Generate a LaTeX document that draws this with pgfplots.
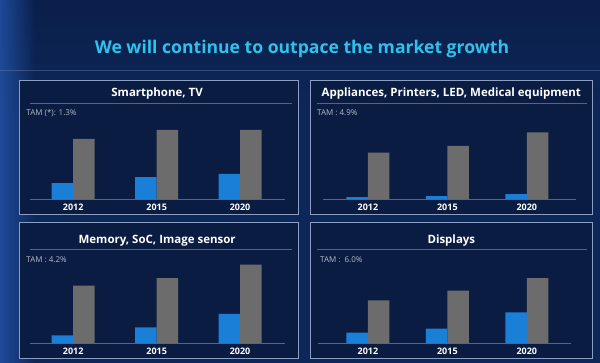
\documentclass[border=0pt]{standalone}
\usepackage{pgfplots}
\pgfplotsset{compat=1.18}
\usetikzlibrary{fadings}
\usepackage{fontspec}
\setmainfont{Open Sans}
\definecolor{bgmid}{HTML}{0E2759}
\definecolor{bgleft}{HTML}{1E4A98}
\definecolor{bgtop}{HTML}{0A1F4A}
\definecolor{panelbg}{HTML}{0A1C42}
\definecolor{frame}{HTML}{8C9EC2}
\definecolor{sep}{HTML}{4D6592}
\definecolor{titlecyan}{HTML}{2EC2EC}
\definecolor{barblue}{HTML}{1A7FD6}
\definecolor{bargray}{HTML}{6C6C6C}
\definecolor{tamgray}{HTML}{B4BCCC}
\pgfplotsset{
  panel/.style={
    scale only axis, height=80pt,
    ymin=0, ymax=80,
    ybar=0pt, bar width=21.5pt,
    axis y line=none,
    axis x line=bottom,
    axis line style={-, draw=sep, line width=0.8pt},
    xtick={0,1,2}, xticklabels={2012,2015,2020},
    major tick length=0pt,
    xticklabel style={font=\bfseries\fontsize{9}{9}\selectfont, text=white, inner sep=0pt, yshift=-4.5pt},
    clip=false,
    anchor=south west,
  },
  bb/.style={fill=barblue, draw=none},
  gb/.style={fill=bargray, draw=none},
}
\begin{document}
\begin{tikzpicture}[x=1pt,y=1pt]
% background
\fill[bgmid] (0,0) rectangle (600,363);
\shade[top color=bgtop, bottom color=bgmid] (0,250) rectangle (600,363);
\fill[bgleft, path fading=east] (0,0) rectangle (35,363);
\draw[sep!70!white, opacity=0.35, line width=0.6pt] (0,293) -- (600,293);
% title
\node[text=titlecyan, font=\bfseries\fontsize{17.6}{17.6}\selectfont] at (302,314) {We will continue to outpace the market growth};
% panels
\foreach \xa/\xb/\ya/\yb in {19/298/148/283, 310/593/148/283, 19/298/4/140, 310/593/4/140}{
  \fill[panelbg] (\xa,\ya) rectangle (\xb,\yb);
  \draw[frame, line width=0.6pt] (\xa,\ya) rectangle (\xb,\yb);
}
\draw[sep, line width=0.7pt] (30,260) -- (292,260);
\draw[sep, line width=0.7pt] (317,260) -- (587,260);
\draw[sep, line width=0.7pt] (30,113) -- (292,113);
\draw[sep, line width=0.7pt] (317,113) -- (587,113);
\node[text=white, font=\fontsize{11.5}{11.5}\selectfont\bfseries] at (157,269) {Smartphone, TV};
\node[text=white, font=\fontsize{11.5}{11.5}\selectfont\bfseries] at (451.5,269) {Appliances, Printers, LED, Medical equipment};
\node[text=white, font=\fontsize{11.5}{11.5}\selectfont\bfseries] at (157,122) {Memory, SoC, Image sensor};
\node[text=white, font=\fontsize{11.5}{11.5}\selectfont\bfseries] at (451.5,122) {Displays};
\node[text=tamgray, font=\fontsize{8}{8}\selectfont, anchor=west, inner sep=0pt] at (26,250) {TAM (*): 1.3\%};
\node[text=tamgray, font=\fontsize{8}{8}\selectfont, anchor=west, inner sep=0pt] at (317,250) {TAM :\ 4.9\%};
\node[text=tamgray, font=\fontsize{8}{8}\selectfont, anchor=west, inner sep=0pt] at (26,103) {TAM : 4.2\%};
\node[text=tamgray, font=\fontsize{8}{8}\selectfont, anchor=west, inner sep=0pt] at (320,103) {TAM :\ \ 6.0\%};
% panel 1
\begin{axis}[panel, at={(30pt,163.7pt)}, width=255pt, xmin=-0.515, xmax=2.539]
\addplot[bb] coordinates {(0,16.0) (1,22.0) (2,25.3)};
\addplot[gb] coordinates {(0,60.3) (1,69.3) (2,69.3)};
\end{axis}
% panel 2
\begin{axis}[panel, at={(323pt,163.7pt)}, width=253pt, xmin=-0.566, xmax=2.616]
\addplot[bb] coordinates {(0,2.0) (1,3.0) (2,5.0)};
\addplot[gb] coordinates {(0,46.6) (1,53.3) (2,66.7)};
\end{axis}
% panel 3
\begin{axis}[panel, at={(30pt,19.7pt)}, width=255pt, xmin=-0.515, xmax=2.539]
\addplot[bb] coordinates {(0,7.6) (1,15.6) (2,29.0)};
\addplot[gb] coordinates {(0,57.3) (1,65.0) (2,78.3)};
\end{axis}
% panel 4
\begin{axis}[panel, at={(318pt,19.7pt)}, width=253pt, xmin=-0.629, xmax=2.553]
\addplot[bb] coordinates {(0,10.3) (1,14.3) (2,30.6)};
\addplot[gb] coordinates {(0,42.6) (1,52.3) (2,65.0)};
\end{axis}
\end{tikzpicture}
\end{document}
